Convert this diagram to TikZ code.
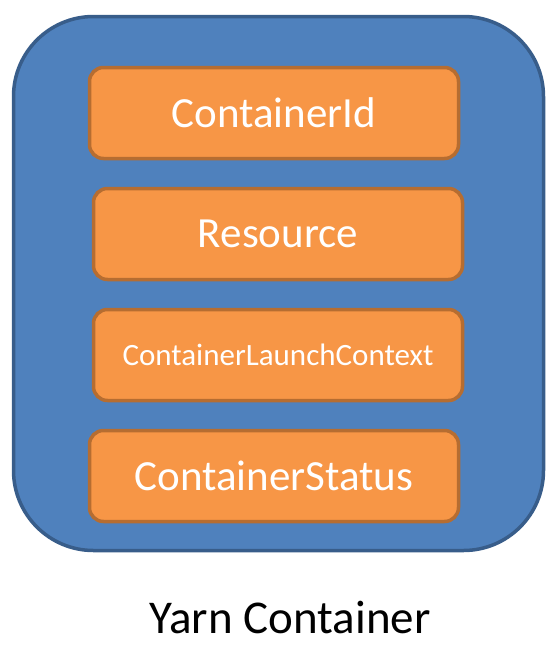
\documentclass[tikz,border=0pt]{standalone}
\usepackage{fontspec}
\setmainfont{Carlito}
\usetikzlibrary{positioning}
\definecolor{boxblue}{HTML}{4F81BD}
\definecolor{boxblueedge}{HTML}{385D8A}
\definecolor{fieldorange}{HTML}{F79646}
\definecolor{fieldedge}{HTML}{B66D31}

\begin{document}
\begin{tikzpicture}[x=1pt,y=-1pt,node distance=121pt]
\tikzstyle{holder}=[draw=boxblueedge,fill=boxblue,line width=3.5pt,rounded corners=80pt,inner sep=0pt]
\tikzstyle{field}=[draw=fieldedge,fill=fieldorange,line width=3.5pt,rounded corners=14pt,minimum width=369pt,minimum height=91pt,inner sep=0pt,text=white,font=\fontsize{43}{50}\selectfont]
\useasboundingbox (0,0) rectangle (556,649);
\node[holder,minimum width=530pt,minimum height=534pt] (yc) at (278.5,283.5) {};
\node[field] (id) at (274,113) {ContainerId};
\node[field][below of=id,xshift=4pt](res){Resource};
\node[field][below of=res,font=\fontsize{31}{36}\selectfont](ctx){ContainerLaunchContext};
\node[field][below of=ctx,xshift=-4pt](st){ContainerStatus};
\node[font=\fontsize{47}{56}\selectfont] (cap) at (290,617) {Yarn Container};
\end{tikzpicture}
\end{document}
